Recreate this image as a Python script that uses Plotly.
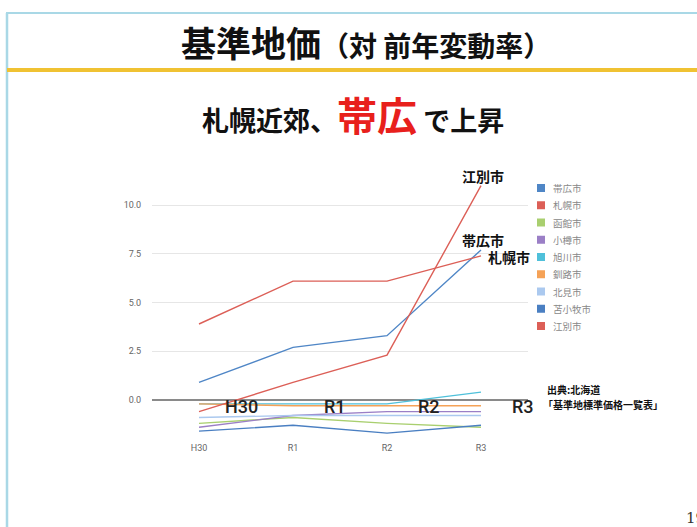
import plotly.graph_objects as go

years = ["H30", "R1", "R2", "R3"]
cities = ["帯広市", "札幌市", "函館市", "小樽市", "旭川市", "釧路市", "北見市", "苫小牧市", "江別市"]
obihiro = [0.9, 2.7, 3.3, 7.7]
sapporo = [3.9, 6.1, 6.1, 7.4]
hakodate = [-1.2, -0.9, -1.2, -1.4]
otaru = [-1.4, -0.8, -0.6, -0.6]
asahikawa = [-0.2, -0.2, -0.2, 0.4]
kushiro = [-0.2, -0.3, -0.3, -0.3]
kitami = [-0.9, -0.8, -0.8, -0.8]
tomakomai = [-1.6, -1.3, -1.7, -1.3]
ebetsu = [-0.6, 0.9, 2.3, 11.0]
series = [obihiro, sapporo, hakodate, otaru, asahikawa, kushiro, kitami, tomakomai, ebetsu]
colors = ["#4f86c6", "#dc5f57", "#a9cf6f", "#9b7fc6", "#4fc0da", "#f5a257", "#abc9ef", "#4a7fc2", "#dc5f57"]
overlay_labels = ["H30", "R1", "R2", "R3"]
yticks = [0, 2.5, 5, 7.5, 10]

JP = "Noto Sans CJK JP"
fig = go.Figure()
for name, vals, col in zip(cities, series, colors):
    fig.add_trace(go.Scatter(x=years, y=vals, mode="lines", name=name,
                             line=dict(color=col, width=1.4), showlegend=False))

fig.update_layout(
    width=697, height=527,
    margin=dict(l=152, r=169, t=175, b=91),
    paper_bgcolor="white", plot_bgcolor="white",
    font=dict(family=JP, color="#666"),
    showlegend=False,
    xaxis=dict(type="category", range=[-0.5, 3.5], showgrid=False, showline=False,
               tickfont=dict(size=9, color="#666", family="Roboto"), ticks="outside", ticklen=3, tickcolor="white"),
    yaxis=dict(range=[-1.85, 11.55], tickvals=yticks, tickformat=".1f",
               showgrid=True, gridcolor="#e6e6e6", gridwidth=1,
               zeroline=True, zerolinecolor="#8a8a8a", zerolinewidth=1.5,
               tickfont=dict(size=9, color="#666", family="Roboto"), ticks="outside", ticklen=8, tickcolor="white"),
)

def py(ypix):
    return 1 - (ypix - 175) / 261
def px(xpix):
    return (xpix - 152) / 376

shapes = [
    dict(type="line", xref="paper", yref="paper", x0=px(6), x1=px(720), y0=py(13), y1=py(13),
         line=dict(color="#a9d8e6", width=2)),
    dict(type="line", xref="paper", yref="paper", x0=px(7), x1=px(7), y0=py(13), y1=py(540),
         line=dict(color="#a9d8e6", width=2.5)),
    dict(type="line", xref="paper", yref="paper", x0=px(7), x1=px(720), y0=py(70), y1=py(70),
         line=dict(color="#f0c232", width=4)),
]
ann = []
# legend (built from cities / colors)
leg_top, leg_step = 188, 17.25
for i, (name, col) in enumerate(zip(cities, colors)):
    yc = leg_top + i * leg_step
    shapes.append(dict(type="rect", xref="paper", yref="paper", x0=px(537), x1=px(545),
                       y0=py(yc - 4), y1=py(yc + 4), fillcolor=col, line=dict(width=0)))
    ann.append(dict(text=name, x=px(551), y=py(yc), xref="paper", yref="paper", showarrow=False,
                    font=dict(size=9.5, color="#888", family=JP), xanchor="left", yanchor="middle"))
fig.update_layout(shapes=shapes)

ann.append(dict(text="<b>基準地価</b><b><span style='font-size:28px'>（対 前年変動率）</span></b>",
                x=px(366), y=py(41), xref="paper", yref="paper", showarrow=False,
                font=dict(size=35, color="#111", family=JP), xanchor="center", yanchor="middle"))
ann.append(dict(text="<b>札幌近郊、<span style='font-size:40px;color:#e8201c'>帯広</span> で上昇</b>",
                x=px(353), y=py(114), xref="paper", yref="paper", showarrow=False,
                font=dict(size=27, color="#111", family=JP), xanchor="center", yanchor="middle"))
ann.append(dict(text="<b>江別市</b>", x=px(483), y=py(176), xref="paper", yref="paper", showarrow=False,
                font=dict(size=14, color="#111", family=JP), xanchor="center", yanchor="middle"))
ann.append(dict(text="<b>帯広市</b>", x=px(483), y=py(240), xref="paper", yref="paper", showarrow=False,
                font=dict(size=14, color="#111", family=JP), xanchor="center", yanchor="middle"))
ann.append(dict(text="<b>札幌市</b>", x=px(509), y=py(257), xref="paper", yref="paper", showarrow=False,
                font=dict(size=14, color="#111", family=JP), xanchor="center", yanchor="middle"))
ann.append(dict(text="<b>出典:北海道</b>", x=px(545), y=py(389), xref="paper", yref="paper",
                showarrow=False, align="left", font=dict(size=10, color="#111", family=JP),
                xanchor="left", yanchor="middle"))
ann.append(dict(text="<b>「基準地標準価格一覧表」</b>", x=px(541), y=py(404), xref="paper", yref="paper",
                showarrow=False, align="left", font=dict(size=10, color="#111", family=JP),
                xanchor="left", yanchor="middle"))
for i, lab in enumerate(overlay_labels):
    ann.append(dict(text=lab, x=i + 0.45, y=py(406), xref="x", yref="paper", showarrow=False,
                    font=dict(size=18, color="#222", family="Roboto", weight=500), xanchor="center", yanchor="middle"))
ann.append(dict(text="19", x=px(684), y=py(518), xref="paper", yref="paper", showarrow=False,
                font=dict(size=15, color="#333", family="DejaVu Serif"), xanchor="left", yanchor="middle"))
fig.update_layout(annotations=ann)

fig.write_html("out.html")
